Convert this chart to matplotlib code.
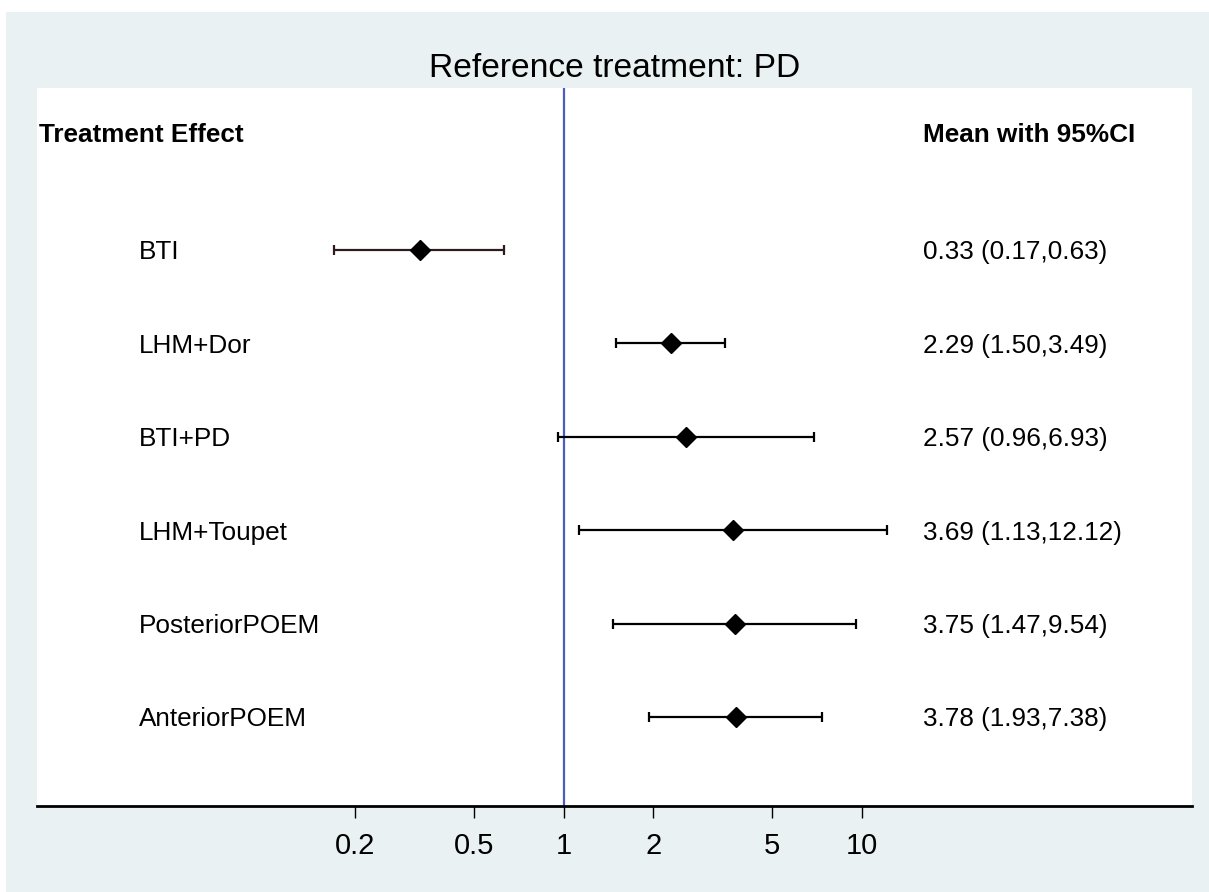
import matplotlib
matplotlib.use("Agg")
import matplotlib.pyplot as plt
from matplotlib.patches import Rectangle
from matplotlib.ticker import FixedLocator, NullLocator

plt.rcParams["font.family"] = ["Liberation Sans", "DejaVu Sans"]

treatments = ["BTI", "LHM+Dor", "BTI+PD", "LHM+Toupet", "PosteriorPOEM", "AnteriorPOEM"]
means = [0.33, 2.29, 2.57, 3.69, 3.75, 3.78]
lower = [0.17, 1.50, 0.96, 1.13, 1.47, 1.93]
upper = [0.63, 3.49, 6.93, 12.12, 9.54, 7.38]
tick_vals = [0.2, 0.5, 1, 2, 5, 10]
tick_labels = ["0.2", "0.5", "1", "2", "5", "10"]

bg = "#e9f1f3"
W, H = 1209, 892

fig = plt.figure(figsize=(W / 100, H / 100), dpi=100)
fig.patch.set_facecolor("white")
fig.patches.append(Rectangle((6 / W, 0), 1 - 6 / W, 880 / H, transform=fig.transFigure,
                             facecolor=bg, edgecolor="none", zorder=-10))

ax = fig.add_axes([37 / W, 1 - 806 / H, (1192 - 37) / W, (806 - 88) / H])
ax.set_zorder(1)
ax.set_facecolor("white")

ypos = list(range(1, len(treatments) + 1))
ax.set_xscale("log")
ax.set_xlim(0.01715, 128)
ax.set_ylim(6.953, -0.734)

# reference line at 1
ax.axvline(1, color="#4a5cc0", lw=1.6, zorder=1)

for i, y in enumerate(ypos):
    col = "#2e1c1c" if i == 0 else "black"
    ax.errorbar(means[i], y, xerr=[[means[i] - lower[i]], [upper[i] - means[i]]],
                fmt="none", ecolor=col, elinewidth=1.6, capsize=3.5, capthick=1.6, zorder=2)
    ax.plot(means[i], y, marker="D", color="black", markersize=10.5, zorder=3, linestyle="none")
    ax.text(0.0883, y, treatments[i], transform=ax.get_yaxis_transform(),
            ha="left", va="center_baseline", fontsize=18.8)
    ax.text(0.767, y, f"{means[i]:.2f} ({lower[i]:.2f},{upper[i]:.2f})",
            transform=ax.get_yaxis_transform(), ha="left", va="center_baseline", fontsize=18.8)

ax.text(0.0017, -0.253, "Treatment Effect", transform=ax.get_yaxis_transform(),
        ha="left", va="center_baseline", fontsize=18.8, fontweight="bold")
ax.text(0.767, -0.253, "Mean with 95%CI", transform=ax.get_yaxis_transform(),
        ha="left", va="center_baseline", fontsize=18.8, fontweight="bold")

ax.set_title("Reference treatment: PD", fontsize=24.2, pad=8)

for s in ["left", "right", "top"]:
    ax.spines[s].set_visible(False)
ax.spines["bottom"].set_linewidth(2)
ax.yaxis.set_major_locator(NullLocator())
ax.xaxis.set_major_locator(FixedLocator(tick_vals))
ax.xaxis.set_minor_locator(NullLocator())
ax.set_xticklabels(tick_labels)
ax.tick_params(axis="x", length=8.5, width=1, pad=10, labelsize=21)

fig.savefig("out.png", dpi=100)
